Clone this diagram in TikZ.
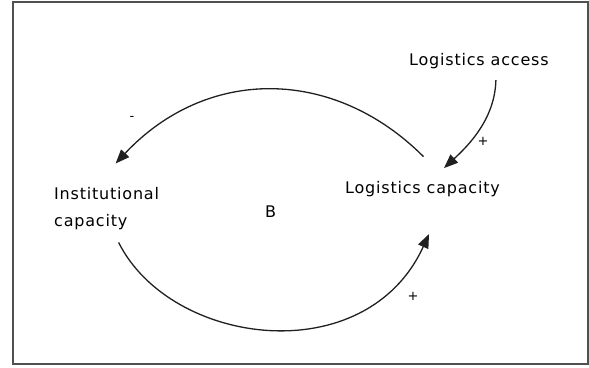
\documentclass[tikz,border=0pt]{standalone}
\usepackage{fontspec}
\setmainfont[LetterSpace=5]{DejaVu Sans}
\usetikzlibrary{arrows.meta}
\definecolor{framegray}{HTML}{505050}
\definecolor{linegray}{HTML}{202020}
\tikzset{
  lbl/.style={inner sep=0pt, font=\fontsize{16}{27}\selectfont, text=black},
  sign/.style={inner sep=0pt, font=\fontsize{13}{15}\selectfont, text=black},
  link/.style={draw=linegray, line width=1.3pt, -{Triangle[length=14pt,width=11pt]}},
  frame/.style={draw=framegray, line width=2pt}
}
\begin{document}
\begin{tikzpicture}[x=1pt,y=-1pt]
\useasboundingbox (0,0) rectangle (589,367);
\draw[frame] (13,2) rectangle (588,364);
\node[lbl, anchor=west, align=left] (ic) at (54,208.5) {Institutional\\capacity};
\node[lbl, anchor=base west] (lc) at (345,193) {Logistics capacity};
\node[lbl, anchor=base west] (la) at (409,65) {Logistics access};
\node[lbl, anchor=base west] (b) at (265,217) {B};
\node[sign] (m) at (132,118) {-};
\node[sign] (p1) at (483,141) {+};
\node[sign] (p2) at (413,296) {+};
\draw[link] ([shift={(1,-24)}]lc.north) .. controls +(-90,-90) and +(91,-97) .. ([shift={(9,-23.6)}]ic.north);
\draw[link] ([shift={(12,12.5)}]ic.south) .. controls +(52,104) and +(-63,138) .. ([shift={(6.5,37.5)}]lc.south);
\draw[link] ([shift={(17,11.5)}]la.south) .. controls +(-1,38) and +(26,-24) .. ([shift={(21.5,-12.6)}]lc.north);
\end{tikzpicture}
\end{document}
